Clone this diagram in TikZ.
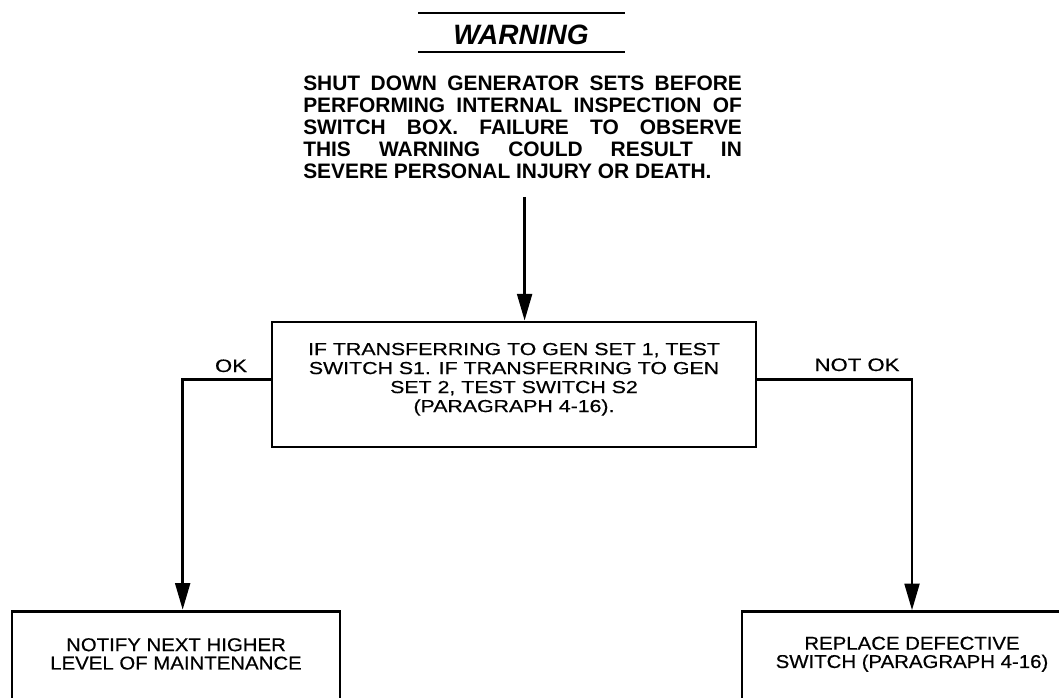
\documentclass[tikz,border=0pt]{standalone}
\usepackage{fontspec}
\setmainfont{Liberation Sans}
\newfontfamily\boxfont{Liberation Sans}[FakeStretch=1.23,FakeBold=0.5]
\newfontfamily\endfont{Liberation Sans}[FakeStretch=1.1,FakeBold=0.5]
\usetikzlibrary{arrows.meta,positioning}

\begin{document}
\begin{tikzpicture}[x=0.75pt,y=-0.75pt,>={Triangle[length=20pt,width=11pt]},
          bx/.style={draw,line width=2pt,inner sep=0pt,align=center,font=\boxfont\fontsize{13}{14.25}\selectfont},
          endbx/.style={bx,minimum height=74pt,font=\endfont\fontsize{13.9}{13.75}\selectfont},
          ln/.style={line width=2.2pt},
          lbl/.style={anchor=base,inner sep=0pt,font=\boxfont\fontsize{13.5}{13.5}\selectfont}]
        \useasboundingbox (0,0) rectangle (1059,698);
        \clip (0,0) rectangle (1059,698);
        % warning header
        \draw[line width=1.6pt] (418,13) -- (625,13);
        \draw[line width=1.6pt] (418,52) -- (625,52);
        \node[anchor=base,inner sep=0pt,font=\bfseries\itshape\fontsize{21}{21}\selectfont] (warn) at (521,45) {WARNING};
        \node[anchor=base west,inner sep=0pt] (note) at (303,91) {\parbox[t]{329pt}{\fontsize{15.7}{16.5}\selectfont\bfseries
          SHUT DOWN GENERATOR SETS BEFORE\linebreak
          PERFORMING INTERNAL INSPECTION OF\linebreak
          SWITCH BOX. FAILURE TO OBSERVE\linebreak
          THIS WARNING COULD RESULT IN\linebreak
          SEVERE PERSONAL INJURY OR DEATH.}};
        % boxes
        \node[bx,minimum width=363pt,minimum height=93.75pt,text depth=10.5pt] (test) at (514,384.5)
          {IF TRANSFERRING TO GEN SET 1, TEST\\SWITCH S1. IF TRANSFERRING TO GEN\\SET 2, TEST SWITCH S2\\(PARAGRAPH 4-16).};
        \node[endbx,minimum width=246pt,text depth=10pt] (notify) at (176,660.5)
          {NOTIFY NEXT HIGHER\\LEVEL OF MAINTENANCE};
        \node[endbx,minimum width=255pt,text depth=13pt] (replace) at (912,661)
          {REPLACE DEFECTIVE\\SWITCH (PARAGRAPH 4-16)};
        \node[lbl] (ok) at (231,372) {OK};
        \node[lbl] (notok) at (857,371) {NOT OK};
        % connectors
        \draw[ln,->] ([xshift=1.5pt,yshift=-13pt]note.south) -- ([xshift=1.5pt]note.south |- test.north);
        \draw[ln,->] ([yshift=4pt]test.west) -| ([xshift=5pt]notify.north);
        \draw[ln,->] ([yshift=4pt]test.east) -| (replace.north);
      \end{tikzpicture}
\end{document}
